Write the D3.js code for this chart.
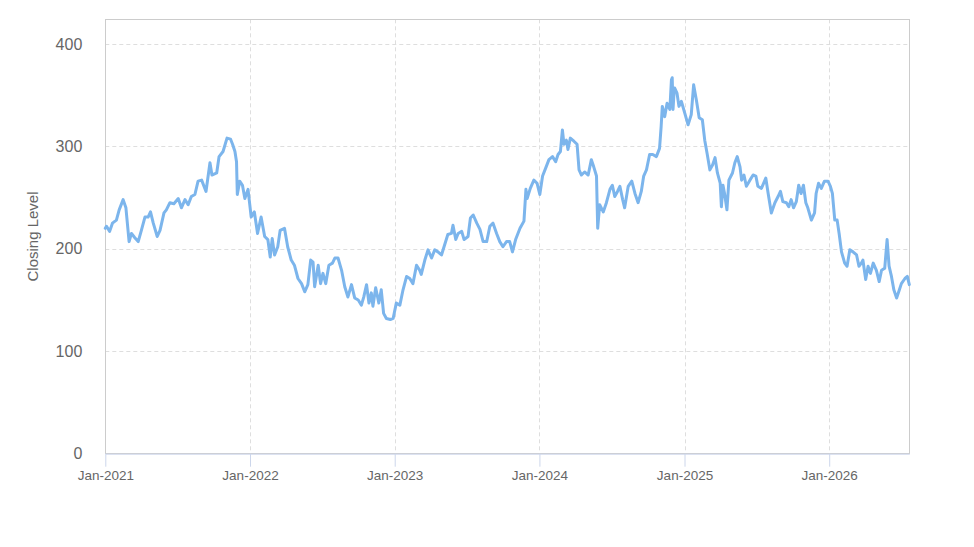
<!DOCTYPE html>
<html><head><meta charset="utf-8">
<script src="https://cdn.jsdelivr.net/npm/d3@7"></script>
<style>
html,body{margin:0;padding:0;background:#fff;}
svg{display:block;font-family:"Liberation Sans",Arial,sans-serif;}
</style></head>
<body><svg id="chart" width="974" height="547"></svg>
<script>
const dates = [
"2021-01-01","2021-01-04","2021-01-12","2021-01-19","2021-01-29","2021-02-05","2021-02-15","2021-02-22","2021-03-02","2021-03-08","2021-03-16","2021-03-25",
"2021-04-02","2021-04-11","2021-04-19","2021-04-25","2021-05-02","2021-05-12","2021-05-19","2021-05-29","2021-06-04","2021-06-13","2021-06-23",
"2021-07-04","2021-07-12","2021-07-21","2021-07-29","2021-08-06","2021-08-15","2021-08-23","2021-09-01","2021-09-12","2021-09-22","2021-09-27",
"2021-10-09","2021-10-15","2021-10-25","2021-11-04","2021-11-13","2021-11-18","2021-11-24","2021-11-28","2021-11-30","2021-12-06","2021-12-13",
"2021-12-19","2021-12-27",
"2022-01-04","2022-01-12","2022-01-20","2022-01-29","2022-02-07","2022-02-15","2022-02-21","2022-02-26","2022-03-04","2022-03-12","2022-03-18",
"2022-03-29","2022-04-06","2022-04-15","2022-04-23","2022-05-02","2022-05-11","2022-05-19","2022-05-27","2022-06-03","2022-06-09","2022-06-13",
"2022-06-22","2022-06-28","2022-07-04","2022-07-11","2022-07-19","2022-07-28","2022-08-03","2022-08-11","2022-08-20","2022-08-28","2022-09-05",
"2022-09-14","2022-09-22","2022-10-01","2022-10-09","2022-10-15","2022-10-22","2022-10-28","2022-11-03","2022-11-07","2022-11-14","2022-11-22",
"2022-11-28","2022-12-04","2022-12-11","2022-12-21","2022-12-28",
"2023-01-05","2023-01-14","2023-01-22","2023-01-31","2023-02-08","2023-02-16","2023-02-25","2023-03-05","2023-03-09","2023-03-18","2023-03-26",
"2023-04-04","2023-04-12","2023-04-20","2023-04-29","2023-05-07","2023-05-15","2023-05-24","2023-05-28","2023-06-04","2023-06-10","2023-06-19",
"2023-06-25","2023-07-05","2023-07-11","2023-07-18","2023-07-27","2023-08-04","2023-08-12","2023-08-21","2023-08-29","2023-09-06","2023-09-15",
"2023-09-23","2023-10-01","2023-10-10","2023-10-18","2023-10-25","2023-11-02","2023-11-13","2023-11-23","2023-11-28","2023-12-01","2023-12-09",
"2023-12-18","2023-12-26",
"2024-01-02","2024-01-09","2024-01-17","2024-01-25","2024-02-03","2024-02-11","2024-02-17","2024-02-23","2024-02-28","2024-03-03","2024-03-09",
"2024-03-13","2024-03-19","2024-03-28","2024-04-05","2024-04-10","2024-04-16","2024-04-24","2024-05-03","2024-05-11","2024-05-17","2024-05-24",
"2024-05-27","2024-06-01","2024-06-10","2024-06-18","2024-06-27","2024-07-03","2024-07-09","2024-07-16","2024-07-22","2024-07-29","2024-08-03",
"2024-08-12","2024-08-21","2024-08-29","2024-09-06","2024-09-14","2024-09-20","2024-09-27","2024-10-05","2024-10-13","2024-10-22","2024-10-30",
"2024-11-03","2024-11-06","2024-11-12","2024-11-18","2024-11-25","2024-11-29","2024-12-01","2024-12-03","2024-12-06","2024-12-07","2024-12-13",
"2024-12-18","2024-12-24",
"2025-01-02","2025-01-10","2025-01-18","2025-01-24","2025-01-31","2025-02-07","2025-02-15","2025-02-21","2025-02-27","2025-03-06","2025-03-13",
"2025-03-19","2025-03-25","2025-04-01","2025-04-04","2025-04-08","2025-04-12","2025-04-18","2025-04-23","2025-05-02","2025-05-08","2025-05-14",
"2025-05-21","2025-05-25","2025-05-31","2025-06-06","2025-06-15","2025-06-23","2025-06-30","2025-07-05","2025-07-14","2025-07-25","2025-07-31",
"2025-08-08","2025-08-17","2025-08-25","2025-08-31","2025-09-06","2025-09-15","2025-09-21","2025-09-27","2025-10-03","2025-10-10","2025-10-16",
"2025-10-22","2025-10-28","2025-11-03","2025-11-08","2025-11-17","2025-11-25","2025-11-29","2025-12-05","2025-12-12","2025-12-20","2025-12-29",
"2026-01-04","2026-01-09","2026-01-15","2026-01-21","2026-01-26","2026-02-01","2026-02-09","2026-02-15","2026-02-22","2026-03-02","2026-03-11",
"2026-03-17","2026-03-23","2026-03-27","2026-04-03","2026-04-09","2026-04-15","2026-04-22","2026-04-30","2026-05-07","2026-05-13","2026-05-21",
"2026-05-27","2026-06-01","2026-06-07","2026-06-13","2026-06-20","2026-06-27","2026-07-02","2026-07-11","2026-07-17","2026-07-22"
];
const closing = [
220,222,217,225,228,238,248,240,207,215,211,207,
218,231,231,236,225,212,218,235,238,245,244,
249,240,248,243,251,253,266,267,256,284,272,
274,290,295,308,307,302,295,285,253,266,262,
249,258,
231,236,215,231,212,209,192,210,194,202,218,
220,202,189,184,171,166,158,165,189,187,163,
184,166,176,166,184,186,191,191,179,163,153,
165,152,150,145,153,165,147,157,144,162,147,
160,137,132,131,132,
147,145,160,173,171,166,184,179,175,189,199,
191,199,197,194,204,214,215,223,209,215,217,
209,212,230,233,225,219,207,207,222,225,215,
207,202,207,207,197,209,220,227,258,249,259,
267,264,
253,271,279,287,290,285,292,295,316,302,306,
297,308,305,302,277,272,275,272,287,280,271,
220,243,236,245,258,262,251,256,261,248,240,
261,266,254,245,256,271,277,292,292,290,298,
319,339,329,342,336,365,367,336,355,357,352,
339,344,
332,321,331,360,345,328,326,306,293,277,282,
289,274,264,241,262,254,238,267,274,284,290,
280,267,272,261,267,272,271,261,259,269,254,
235,245,251,256,246,245,241,248,240,246,262,
254,262,245,240,228,235,254,264,259,266,266,
261,254,228,228,215,197,186,183,199,197,194,
183,186,189,170,183,176,186,179,168,179,181,
209,183,173,160,152,160,166,171,173,165
];
const yTicks = [0,100,200,300,400];
const xTickLabels = ["Jan-2021","Jan-2022","Jan-2023","Jan-2024","Jan-2025","Jan-2026"];
const xTickDates = ["2021-01-01","2022-01-01","2023-01-01","2024-01-01","2025-01-01","2026-01-01"];
const xDomain = ["2021-01-01","2026-07-22"];
const yTitle = "Closing Level";

const parse = d3.utcParse("%Y-%m-%d");
const data = dates.map((d,i)=>({date:parse(d), v:closing[i]}));

const svg = d3.select("#chart");
const L=105.3, R=909.3, T=19.3, B=453.7;
const x = d3.scaleUtc().domain(xDomain.map(parse)).range([L,R]);
const y = d3.scaleLinear().domain([0,424]).range([B,T]);

// grid
const g = svg.append("g");
g.selectAll(".hg").data(yTicks.filter(t=>t>0)).join("line")
  .attr("x1",L).attr("x2",R).attr("y1",d=>Math.round(y(d))+0.5).attr("y2",d=>Math.round(y(d))+0.5)
  .attr("stroke","#dedede").attr("stroke-dasharray","4,3").attr("stroke-width",1);
g.selectAll(".vg").data(xTickDates.slice(1).map(parse)).join("line")
  .attr("x1",d=>Math.round(x(d))+0.5).attr("x2",d=>Math.round(x(d))+0.5).attr("y1",T).attr("y2",B)
  .attr("stroke","#dedede").attr("stroke-dasharray","4,3").attr("stroke-width",1);

// border
svg.append("rect").attr("x",105.5).attr("y",19.5).attr("width",804).attr("height",434)
  .attr("fill","none").attr("stroke","#cccccc").attr("stroke-width",1);

// x axis
const xAxis = d3.axisBottom(x).tickValues(xTickDates.map(parse))
  .tickFormat((d,i)=>xTickLabels[i]).tickSizeInner(13).tickSizeOuter(0).tickPadding(4);
const xa = svg.append("g").attr("transform",`translate(0,${B})`).call(xAxis);
xa.select(".domain").attr("stroke","#ccd6eb");
xa.selectAll(".tick line").attr("stroke","#ccd6eb");
xa.selectAll(".tick text").attr("fill","#666").attr("font-size","13.5px")
  .attr("font-family","'Liberation Sans',Arial,sans-serif");

// y axis labels
const yAxis = d3.axisLeft(y).tickValues(yTicks).tickSize(0).tickPadding(23);
const ya = svg.append("g").attr("transform",`translate(${L},0)`).call(yAxis);
ya.select(".domain").remove();
ya.selectAll(".tick text").attr("fill","#666").attr("font-size","16px")
  .attr("font-family","'Liberation Sans',Arial,sans-serif");

// y title
svg.append("text").attr("transform",`translate(38,${(T+B)/2}) rotate(-90)`)
  .attr("text-anchor","middle").attr("fill","#666").attr("font-size","15px").text(yTitle);

// line
svg.append("path").datum(data)
  .attr("fill","none").attr("stroke","#7cb5ec").attr("stroke-width",3)
  .attr("stroke-linejoin","round").attr("stroke-linecap","round")
  .attr("d",d3.line().x(d=>x(d.date)).y(d=>y(d.v)));
</script></body></html>
